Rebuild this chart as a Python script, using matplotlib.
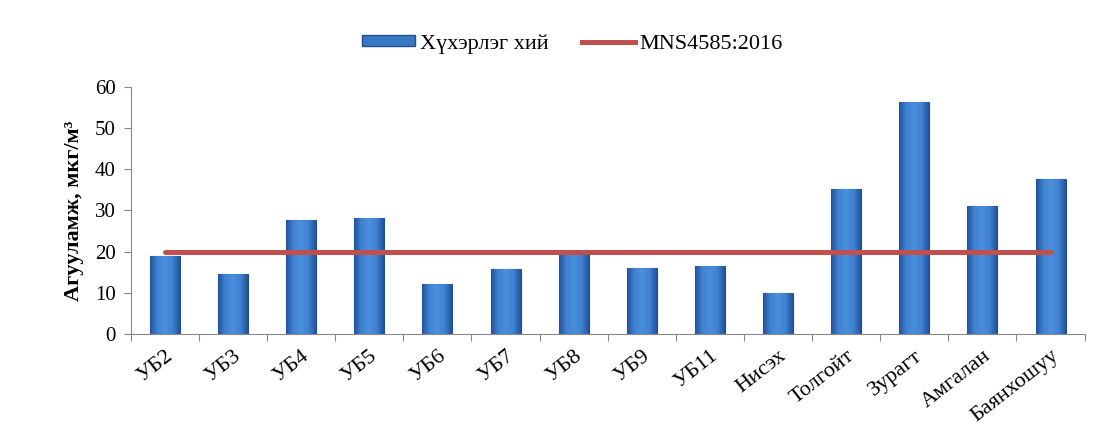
import numpy as np
import matplotlib
matplotlib.use('Agg')
import matplotlib.pyplot as plt
from matplotlib.patches import Patch
from matplotlib.lines import Line2D

stations = ['УБ2', 'УБ3', 'УБ4', 'УБ5', 'УБ6', 'УБ7', 'УБ8', 'УБ9', 'УБ11',
            'Нисэх', 'Толгойт', 'Зурагт', 'Амгалан', 'Баянхошуу']
so2 = [18.9, 14.6, 27.7, 28.2, 12.1, 15.8, 19.7, 16.0, 16.5,
       10.0, 35.2, 56.4, 31.1, 37.6]
standard = 20
bar_name = 'Хүхэрлэг хий'
line_name = 'MNS4585:2016'

plt.rcParams['font.family'] = ['Liberation Serif', 'DejaVu Serif']

def main():
    fig = plt.figure(figsize=(11.09, 4.32), dpi=100)
    ax = fig.add_axes([0.118, 0.227, 0.86, 0.572])
    x = np.arange(len(stations))
    bars = ax.bar(x, so2, width=0.44, color='#3B78C4', edgecolor='#1E4F8F',
                  linewidth=0.8, zorder=2)

    # horizontal shading inside each bar
    grad = np.concatenate([np.linspace(0.0, 1.0, 30), np.linspace(1.0, 0.0, 30)])
    grad = grad.reshape(1, -1)
    cmap = matplotlib.colors.LinearSegmentedColormap.from_list(
        'b', ['#24549A', '#3F82D2', '#4A8EDC'])
    for b in bars:
        x0, w, h = b.get_x(), b.get_width(), b.get_height()
        im = ax.imshow(grad, extent=(x0, x0 + w, 0, h), cmap=cmap,
                       aspect='auto', zorder=2.5)
        im.set_clip_path(b)

    ax.plot([x[0], x[-1]], [standard, standard], color='#C0504D', lw=3.6,
            solid_capstyle='round', zorder=3)

    ax.set_xlim(-0.5, len(stations) - 0.5)
    ax.set_ylim(0, 60)
    ax.set_yticks(range(0, 61, 10))
    ax.tick_params(axis='y', labelsize=15, color='#888888', length=5, pad=6)
    ax.set_xticks(np.arange(-0.5, len(stations), 1.0))
    ax.set_xticklabels([])
    ax.set_xticks(x, minor=True)
    ax.set_xticklabels(stations, minor=True, rotation=38, ha='right',
                       rotation_mode='anchor', fontsize=16)
    ax.tick_params(axis='x', which='major', color='#888888', length=5)
    ax.tick_params(axis='x', which='minor', length=0, pad=9)
    for s in ['top', 'right']:
        ax.spines[s].set_visible(False)
    for s in ['left', 'bottom']:
        ax.spines[s].set_color('#888888')
    ax.set_ylabel('Агууламж, мкг/м³', fontsize=16, fontweight='bold',
                  labelpad=8)

    handles = [Patch(facecolor='#3B78C4', edgecolor='#1E4F8F'),
               Line2D([], [], color='#C0504D', lw=3.6)]
    fig.legend(handles, [bar_name, line_name], loc='center',
               bbox_to_anchor=(0.516, 0.898), ncol=2, frameon=False,
               fontsize=16, handlelength=2.4, handleheight=0.4,
               columnspacing=1.5, handletextpad=0.2)

    fig.savefig('out.png', dpi=100)

if __name__ == '__main__':
    main()
